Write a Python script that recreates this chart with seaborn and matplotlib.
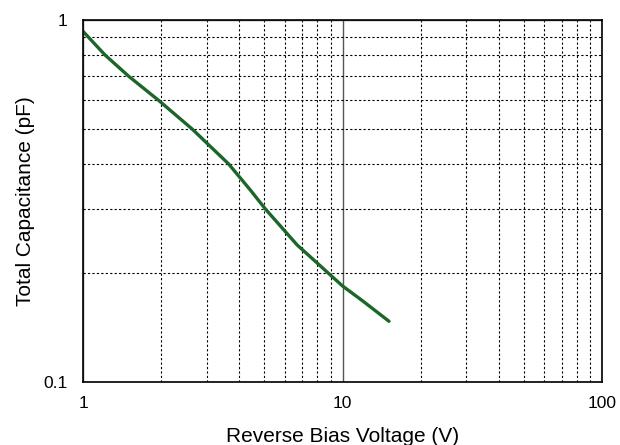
import pandas as pd
import matplotlib.pyplot as plt
import matplotlib.ticker as mticker
import seaborn as sns

voltage = [1.0, 1.216, 1.496, 1.953, 2.63, 3.64, 4.41, 5.05, 6.68, 8.1, 8.86, 10, 12, 15.1]
capacitance = [0.93, 0.8, 0.7, 0.6, 0.5, 0.4, 0.339, 0.3, 0.239, 0.211, 0.199, 0.184, 0.167, 0.147]

df = pd.DataFrame({'voltage': voltage, 'capacitance': capacitance})

sns.set_style("white")
plt.rcParams['font.family'] = ['Liberation Sans', 'DejaVu Sans']
plt.rcParams['text.color'] = 'black'
plt.rcParams['axes.labelcolor'] = 'black'
plt.rcParams['xtick.color'] = 'black'
plt.rcParams['ytick.color'] = 'black'

fig = plt.figure(figsize=(6.2, 4.45), dpi=100)
ax = fig.add_axes([0.134, 0.142, 0.837, 0.813])
sns.lineplot(data=df, x='voltage', y='capacitance', ax=ax, color='#1b6628', linewidth=2.4)

ax.set_xscale('log')
ax.set_yscale('log')
ax.set_xlim(1, 100)
ax.set_ylim(0.1, 1)

ax.xaxis.set_major_locator(mticker.FixedLocator([1, 10, 100]))
ax.xaxis.set_major_formatter(mticker.FixedFormatter(['1', '10', '100']))
ax.yaxis.set_major_locator(mticker.FixedLocator([0.1, 1]))
ax.yaxis.set_major_formatter(mticker.FixedFormatter(['0.1', '1']))
ax.xaxis.set_minor_locator(mticker.LogLocator(base=10, subs=range(2, 10)))
ax.yaxis.set_minor_locator(mticker.LogLocator(base=10, subs=range(2, 10)))
ax.xaxis.set_minor_formatter(mticker.NullFormatter())
ax.yaxis.set_minor_formatter(mticker.NullFormatter())

ax.grid(which='major', color='#555555', linestyle='-', linewidth=1)
ax.grid(which='minor', color='black', linestyle=(0, (2, 2)), linewidth=0.8)
ax.tick_params(which='both', length=0, labelsize=12.5)
ax.tick_params(axis='x', pad=10)
ax.tick_params(axis='y', pad=11)
for s in ax.spines.values():
    s.set_color('black')
    s.set_linewidth(1.2)

ax.set_xlabel("Reverse Bias Voltage (V)", fontsize=15, labelpad=12)
ax.set_ylabel("Total Capacitance (pF)", fontsize=15, labelpad=6)

fig.savefig('out.png', dpi=100)
